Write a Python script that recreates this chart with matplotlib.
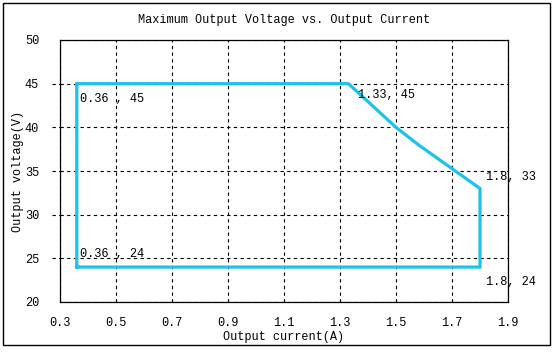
import matplotlib
matplotlib.use("Agg")
import matplotlib.pyplot as plt
from matplotlib.patches import Rectangle

# Data
current = [0.36, 0.36, 1.33, 1.50, 1.58, 1.80, 1.80, 0.36]
voltage = [24, 45, 45, 40, 38, 33, 24, 24]
labels = ["0.36 , 45", "1.33, 45", "1.8, 33", "0.36 , 24", "1.8, 24"]
label_x = [0.37, 1.365, 1.82, 0.37, 1.82]
label_y = [43.2, 43.7, 34.3, 25.5, 22.3]
xticks = [0.3, 0.5, 0.7, 0.9, 1.1, 1.3, 1.5, 1.7, 1.9]
yticks = [20, 25, 30, 35, 40, 45, 50]

font = "Liberation Mono"
fs = 8.6

fig = plt.figure(figsize=(5.53, 3.52), dpi=100)
fig.patch.set_facecolor("white")
ax = fig.add_axes([60/553, 50/352, 448/553, 262/352])

ax.plot(current, voltage, color="#1CC2EC", lw=2.3, solid_joinstyle="miter", zorder=3)

ax.set_xlim(0.3, 1.9)
ax.set_ylim(20, 50)
ax.set_xticks(xticks)
ax.set_yticks(yticks)
ax.set_xticklabels([f"{v:.1f}" for v in xticks], fontfamily=font, fontsize=fs)
ax.set_yticklabels([str(v) for v in yticks], fontfamily=font, fontsize=fs)
ax.tick_params(axis="x", length=0, pad=11)
ax.tick_params(axis="y", length=0, pad=15)
ax.grid(True, color="black", linestyle=(0, (3, 3)), linewidth=0.8)
for s in ax.spines.values():
    s.set_linewidth(0.9)

# short dashed extensions of horizontal grid lines left of the axes
trans = ax.get_yaxis_transform()
for y in yticks[1:-1]:
    ax.plot([-0.018, 0], [y, y], transform=trans, color="black",
            linestyle=(0, (3, 3)), lw=0.8, clip_on=False)

for t, x, y in zip(labels, label_x, label_y):
    ax.text(x, y, t, fontfamily=font, fontsize=fs, va="center", ha="left", clip_on=False)

ax.set_xlabel("Output current(A)", fontfamily=font, fontsize=fs, labelpad=1)
ax.set_ylabel("Output voltage(V)", fontfamily=font, fontsize=fs, labelpad=1)
fig.text(0.5 * (60 + 508) / 553, 1 - 20/352, "Maximum Output Voltage vs. Output Current",
         fontfamily=font, fontsize=fs, ha="center", va="center")

fig.patches.append(Rectangle((3/553, 7/352), 547/553, 342/352, transform=fig.transFigure,
                             fill=False, edgecolor="black", lw=1.0))

fig.savefig("out.png", dpi=100)
